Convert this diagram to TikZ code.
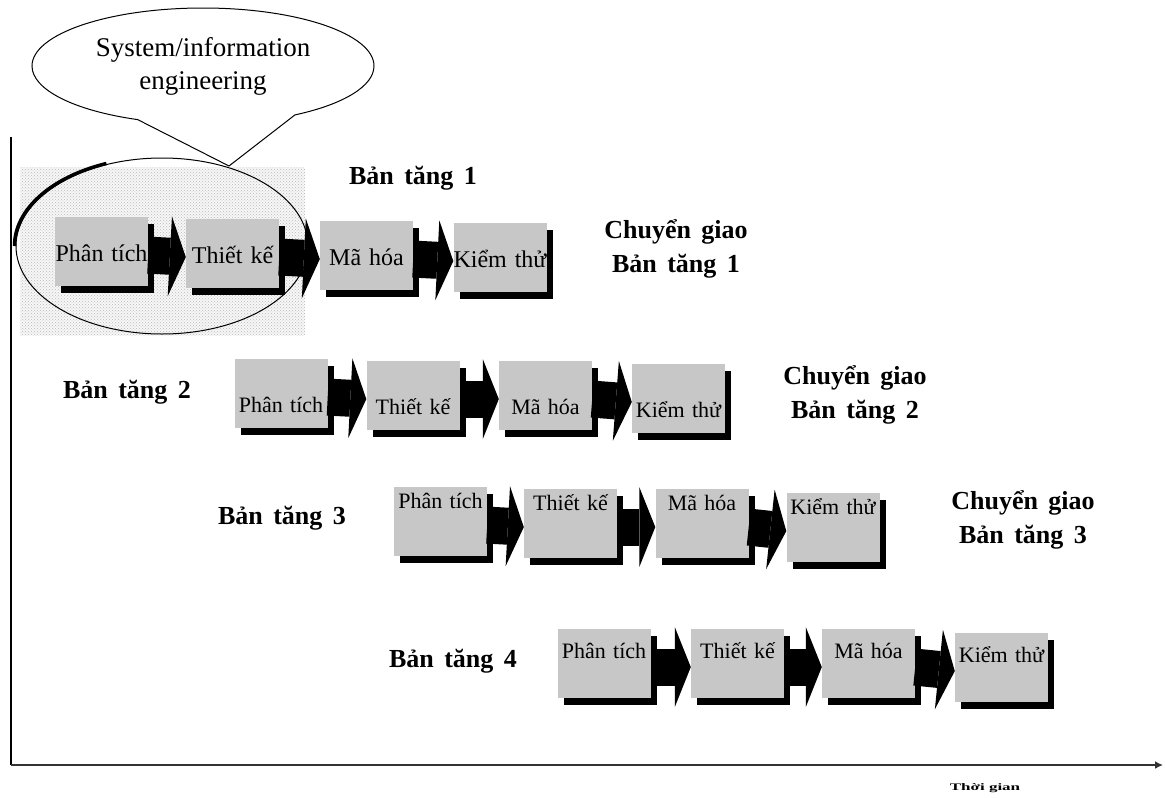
\documentclass[tikz,border=0pt]{standalone}
\usepackage{fontspec}
\setmainfont{Liberation Serif}
\newfontfamily\widefont[WordSpace=1.6]{Liberation Serif}
\usetikzlibrary{arrows.meta,positioning,shapes.geometric,shapes.callouts,shadows,patterns}

\begin{document}
\begin{tikzpicture}[
    x=1pt, y=-1pt,
    phase/.style={fill=black!22, inner sep=0pt, minimum width=93pt, text width=93pt, align=center,
      drop shadow={shadow xshift=6pt, shadow yshift=-7pt, fill=black, opacity=1}},
    phaseA/.style={phase, font=\fontsize{24}{26}\selectfont, text height=45pt, text depth=24pt},
    phaseB/.style={phase, font=\fontsize{22}{24}\selectfont, text height=54pt, text depth=15pt},
    phaseC/.style={phase, font=\fontsize{22}{24}\selectfont, text height=22pt, text depth=47pt},
    phaseD/.style={phase, font=\fontsize{22}{24}\selectfont, text height=30pt, text depth=39pt},
    arr/.style={line width=37pt, -{Triangle[length=16pt, width=80pt, line width=0pt]}},
    lbl/.style={font=\widefont\fontsize{26}{34}\selectfont\bfseries, align=center, inner sep=0pt},
  ]
  \useasboundingbox (0,0) rectangle (1165,798);

  % axes
  \coordinate (O) at (11,765);
  \coordinate (Y) at (11,137);
  \coordinate (X) at (1163,765);
  \draw[line width=2pt] (Y) -- (O);
  \draw[line width=2.5pt, black!80, -{Latex[length=8pt, width=8pt]}] (O) -- (X);
  \node[font=\fontsize{10}{12}\selectfont\bfseries] (time) at (985,788) {\scalebox{1.7}[1]{Thời gian}};

  % stippled area round the first two phases
  \fill[black!3] (20,167) rectangle (305,335);
  \fill[pattern=crosshatch dots, pattern color=black!28] (20,167) rectangle (305,335);
  \node[draw, ellipse, line width=1pt, minimum width=292pt, minimum height=176pt] (ENG) at (162,246) {};
  \draw[line width=3.5pt] ([xshift=-1pt]ENG.west) arc[start angle=180, end angle=248, x radius=147, y radius=89];

  % callout
  \coordinate (tip) at (229,166);
  \node[draw, fill=white, line width=1pt, ellipse callout, callout absolute pointer={(tip)},
    callout pointer arc=55, minimum width=342pt, minimum height=116pt,
    font=\fontsize{27}{33}\selectfont, align=center] (SIE) at (203,66) {System/information\\engineering};

  % increment 1
  \node[phaseA] (P1) at (101.5,251) {Phân tích};
  \node[phaseA] (T1) at (232.5,253) {Thiết kế};
  \node[phaseA] (M1) at (366.5,255) {Mã hóa};
  \node[phaseA] (K1) at (500,257) {Kiểm thử};
  \draw[arr] (P1.-5) -- (T1.185);
  \draw[arr] (T1.-5) -- (M1.185);
  \draw[arr] (M1.-5) -- (K1.185);
  \node[lbl] (L1) at (413,178) {Bản tăng 1};
  \node[lbl] (D1) at (676,249) {Chuyển giao\\Bản tăng 1};

  % increment 2
  \node[phaseB] (P2) at (281,393) {Phân tích};
  \node[phaseB] (T2) at (413,395) {Thiết kế};
  \node[phaseB] (M2) at (545.5,395) {Mã hóa};
  \node[phaseB] (K2) at (678.5,398) {Kiểm thử};
  \draw[arr] (P2.-5) -- (T2.185);
  \draw[arr] (T2.-5) -- (M2.185);
  \draw[arr] (M2.-5) -- (K2.185);
  \node[lbl] (L2) at (127,392) {Bản tăng 2};
  \node[lbl] (D2) at (855,395) {Chuyển giao\\Bản tăng 2};

  % increment 3
  \node[phaseC] (P3) at (440.5,521) {Phân tích};
  \node[phaseC] (T3) at (570.5,523) {Thiết kế};
  \node[phaseC] (M3) at (702,523) {Mã hóa};
  \node[phaseC] (K3) at (833,527) {Kiểm thử};
  \draw[arr] (P3.-5) -- (T3.185);
  \draw[arr] (T3.-5) -- (M3.185);
  \draw[arr] (M3.-5) -- (K3.185);
  \node[lbl] (L3) at (282,518) {Bản tăng 3};
  \node[lbl] (D3) at (1023,520) {Chuyển giao\\Bản tăng 3};

  % increment 4
  \node[phaseD] (P4) at (604,663) {Phân tích};
  \node[phaseD] (T4) at (737.5,663) {Thiết kế};
  \node[phaseD] (M4) at (868.5,663) {Mã hóa};
  \node[phaseD] (K4) at (1001.5,667) {Kiểm thử};
  \draw[arr] (P4.-5) -- (T4.185);
  \draw[arr] (T4.-5) -- (M4.185);
  \draw[arr] (M4.-5) -- (K4.185);
  \node[lbl] (L4) at (453,661) {Bản tăng 4};
\end{tikzpicture}
\end{document}
